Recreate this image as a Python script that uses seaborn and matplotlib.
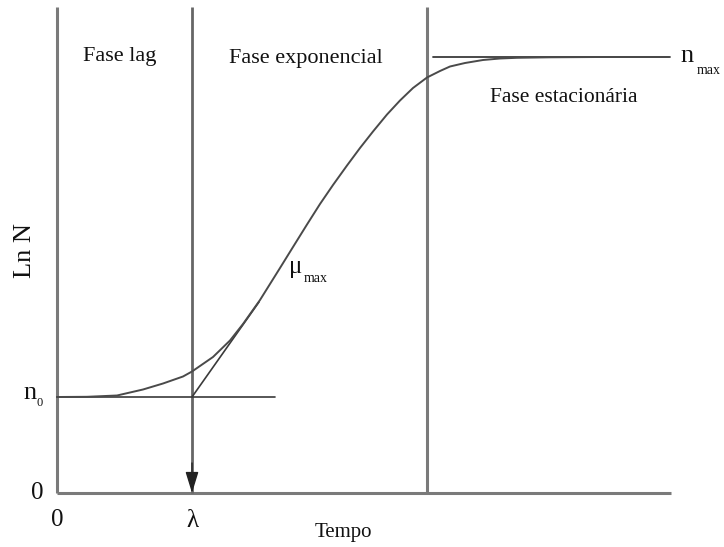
import matplotlib
matplotlib.use("Agg")
import matplotlib.pyplot as plt
import seaborn as sns
import pandas as pd

sns.set_style("white")
plt.rcParams['font.family'] = ['Liberation Serif', 'DejaVu Serif']

# growth curve (time, Ln N)
tempo = [0.0, 3.0, 6.0, 8.6, 10.6, 12.6, 13.5, 15.6, 17.3, 18.6, 20.3, 22.3,
         23.6, 25.0, 26.3, 27.6, 29.0, 30.3, 31.6, 33.0, 34.3, 35.6, 37.0,
         38.3, 39.3, 40.8, 42.6, 44.3, 46.0, 49.3, 54.3, 61.1]
ln_n = [9.6, 9.62, 9.75, 10.35, 10.95, 11.65, 12.15, 13.6, 15.25, 16.9, 19.3,
        22.5, 24.6, 26.85, 28.9, 30.8, 32.75, 34.5, 36.15, 37.85, 39.25, 40.5,
        41.55, 42.2, 42.65, 43.0, 43.3, 43.45, 43.52, 43.57, 43.6, 43.6]

n0 = 9.6
nmax = 43.6
lam = 13.5
t_stat = 37.0
y_top = 48.6
x_end = 61.4
n0_line_end = 21.8
nmax_line = [37.6, 61.3]
tangent_x = [13.5, 20.2]
tangent_y = [9.6, 19.1]

phase_labels = ["Fase lag", "Fase exponencial", "Fase estacionária"]

df = pd.DataFrame({"Tempo": tempo, "LnN": ln_n})

fig = plt.figure(figsize=(7.24, 5.47), dpi=100)
ax = fig.add_axes([0, 0, 1, 1])

axis_col = "#7a7a7a"
line_col = "#3a3a3a"

# axes
ax.plot([0, 0], [0, y_top], color=axis_col, lw=2.2, solid_capstyle="butt")
ax.plot([0, x_end], [0, 0], color=axis_col, lw=2.2, solid_capstyle="butt")
# phase boundary
ax.plot([t_stat, t_stat], [0, y_top], color=axis_col, lw=2.2, solid_capstyle="butt")
# lambda line + arrow head
ax.plot([lam, lam], [0, y_top], color="#666666", lw=2.0, solid_capstyle="butt")
ax.annotate("", xy=(lam, 0), xytext=(lam, 3.0),
            arrowprops=dict(arrowstyle="-|>,head_length=0.65,head_width=0.2",
                            mutation_scale=20, color="#222222", lw=1.0,
                            shrinkA=0, shrinkB=0))

# n0 and nmax lines
ax.plot([0, n0_line_end], [n0, n0], color=line_col, lw=1.2)
ax.plot(nmax_line, [nmax, nmax], color=line_col, lw=1.3)
# tangent
ax.plot(tangent_x, tangent_y, color=line_col, lw=1.2)

# curve
sns.lineplot(data=df, x="Tempo", y="LnN", ax=ax, color="#4a4a4a", lw=1.4,
             sort=False, estimator=None)
ax.axis("off")
ax.set_xlim(-5.7, 66.7)
ax.set_ylim(-5.4, 49.3)

txt = dict(color="#111111", ha="center", va="center")
ax.text(6.3, 43.6, phase_labels[0], fontsize=16, **txt)
ax.text(24.9, 43.5, phase_labels[1], fontsize=16, **txt)
ax.text(50.7, 39.6, phase_labels[2], fontsize=15.5, **txt)
ax.text(-3.2, 24.3, "Ln N", fontsize=19, rotation=90, **txt)
ax.text(-2.0, 0.0, "0", fontsize=18, **txt)
ax.text(0.0, -2.7, "0", fontsize=18, **txt)
ax.text(lam, -2.8, "λ", fontsize=18, **txt)
ax.text(28.6, -3.9, "Tempo", fontsize=15, **txt)
ax.text(-2.7, 10.0, "n", fontsize=19, **txt)
ax.text(-1.7, 9.0, "0", fontsize=9, **txt)
ax.text(62.3, 43.7, "n", fontsize=19, ha="left", va="center", color="#111111")
ax.text(64.0, 42.2, "max", fontsize=10, ha="left", va="center", color="#111111")
ax.text(23.2, 22.6, "μ", fontsize=18, ha="left", va="center", color="#111111")
ax.text(24.7, 21.5, "max", fontsize=10, ha="left", va="center", color="#111111")

fig.savefig("out.png", dpi=100)
